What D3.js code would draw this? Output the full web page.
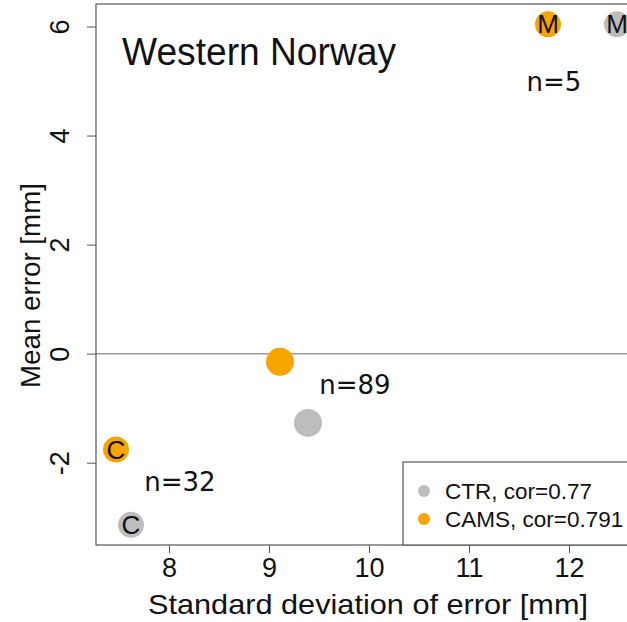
<!DOCTYPE html>
<html>
<head>
<meta charset="utf-8">
<script src="https://cdn.jsdelivr.net/npm/d3@7"></script>
<style>
  body { margin: 0; background: #fff; }
  text { font-family: "Liberation Sans", Arial, sans-serif; }
</style>
</head>
<body>
<div id="chart"></div>
<script>
// data
var title = "Western Norway";
var seriesNames = ["CTR", "CAMS"];
var seriesCor = ["0.77", "0.791"];
var seriesColors = ["#bdbdbd", "#f7a400"];
var groupLetters = ["C", "", "M"];
var ctrSd = [7.62, 9.39, 12.48];
var ctrMe = [-3.14, -1.27, 6.04];
var camsSd = [7.47, 9.11, 11.79];
var camsMe = [-1.76, -0.15, 6.04];
var nCounts = [32, 89, 5];
var nAtSd = [8.11, 9.86, 11.85];
var nAtMe = [-2.35, -0.57, 4.99];
var xTicks = [8, 9, 10, 11, 12];
var yTicks = [-2, 0, 2, 4, 6];

var width = 627, height = 622;

var svg = d3.select("#chart")
    .append("svg")
    .attr("width", width)
    .attr("height", height);

var x = d3.scaleLinear()
    .domain([7.27, 12.71])
    .range([96, 640]);

var y = d3.scaleLinear()
    .domain([-3.51, 6.413])
    .range([545, 4]);

// zero line
svg.append("line")
    .attr("x1", x.range()[0]).attr("x2", x.range()[1])
    .attr("y1", y(0)).attr("y2", y(0))
    .attr("stroke", "#9a9a9a")
    .attr("stroke-width", 1.5);

// plot frame
svg.append("rect")
    .attr("x", 96).attr("y", 4)
    .attr("width", 700).attr("height", 541)
    .attr("fill", "none")
    .attr("stroke", "#555")
    .attr("stroke-width", 1.2);

// axes
var xAxis = svg.append("g")
    .attr("transform", "translate(0,545)")
    .call(d3.axisBottom(x).tickValues(xTicks).tickFormat(function (d) { return String(d); })
        .tickSize(8).tickPadding(5));
xAxis.select(".domain").remove();
xAxis.selectAll("line").attr("stroke", "#555");
xAxis.selectAll("text")
    .style("font-size", "27px")
    .style("font-family", "Liberation Sans, Arial, sans-serif")
    .attr("fill", "#111");

var yAxis = svg.append("g")
    .attr("transform", "translate(96,0)")
    .call(d3.axisLeft(y).tickValues(yTicks).tickFormat(function (d) { return String(d); })
        .tickSize(9).tickPadding(0));
yAxis.select(".domain").remove();
yAxis.selectAll("line").attr("stroke", "#555");
yAxis.selectAll("text")
    .style("font-size", "27px")
    .style("font-family", "Liberation Sans, Arial, sans-serif")
    .attr("fill", "#111")
    .attr("text-anchor", "middle")
    .attr("dy", null)
    .attr("x", null)
    .attr("transform", "translate(-34,0) rotate(-90)")
    .attr("dominant-baseline", "middle");

// axis titles
svg.append("text")
    .attr("x", 368).attr("y", 614)
    .attr("text-anchor", "middle")
    .attr("textLength", 440)
    .attr("lengthAdjust", "spacingAndGlyphs")
    .style("font-size", "28px")
    .attr("fill", "#111")
    .text("Standard deviation of error [mm]");

svg.append("text")
    .attr("transform", "translate(40,285.5) rotate(-90)")
    .attr("text-anchor", "middle")
    .attr("textLength", 205)
    .attr("lengthAdjust", "spacingAndGlyphs")
    .style("font-size", "28px")
    .attr("fill", "#111")
    .text("Mean error [mm]");

// title
svg.append("text")
    .attr("x", 122).attr("y", 65)
    .attr("textLength", 274)
    .attr("lengthAdjust", "spacingAndGlyphs")
    .style("font-size", "38px")
    .attr("fill", "#111")
    .text(title);

// points
var pts = [];
ctrSd.forEach(function (d, i) { pts.push({ s: 0, sd: d, me: ctrMe[i], g: i }); });
camsSd.forEach(function (d, i) { pts.push({ s: 1, sd: d, me: camsMe[i], g: i }); });

svg.selectAll("circle.pt")
    .data(pts)
    .enter()
    .append("circle")
    .attr("class", "pt")
    .attr("cx", function (d) { return x(d.sd); })
    .attr("cy", function (d) { return y(d.me); })
    .attr("r", function (d) { return groupLetters[d.g] ? 13 : 14; })
    .attr("fill", function (d) { return seriesColors[d.s]; });

svg.selectAll("text.letter")
    .data(pts.filter(function (d) { return groupLetters[d.g]; }))
    .enter()
    .append("text")
    .attr("class", "letter")
    .attr("x", function (d) { return x(d.sd); })
    .attr("y", function (d) { return y(d.me); })
    .attr("text-anchor", "middle")
    .attr("dominant-baseline", "central")
    .style("font-size", "26px")
    .attr("fill", "#111")
    .text(function (d) { return groupLetters[d.g]; });

// n labels
svg.selectAll("text.nlab")
    .data(nCounts)
    .enter()
    .append("text")
    .attr("class", "nlab")
    .attr("x", function (d, i) { return x(nAtSd[i]); })
    .attr("y", function (d, i) { return y(nAtMe[i]); })
    .attr("text-anchor", "middle")
    .attr("dominant-baseline", "central")
    .style("font-size", "26px")
    .style("font-family", "DejaVu Sans, sans-serif")
    .attr("fill", "#111")
    .text(function (d) { return "n=" + d; });

// legend
var lg = svg.append("g");
lg.append("rect")
    .attr("x", 403).attr("y", 462)
    .attr("width", 300).attr("height", 83)
    .attr("fill", "#fff")
    .attr("stroke", "#555")
    .attr("stroke-width", 1.2);

seriesNames.forEach(function (nm, i) {
    lg.append("circle")
        .attr("cx", 424).attr("cy", 491 + i * 28)
        .attr("r", 6)
        .attr("fill", seriesColors[i]);
    lg.append("text")
        .attr("x", 445).attr("y", 491 + i * 28)
        .attr("dominant-baseline", "central")
        .style("font-size", "22.5px")
        .attr("fill", "#111")
        .text(nm + ", cor=" + seriesCor[i]);
});
</script>
</body>
</html>
